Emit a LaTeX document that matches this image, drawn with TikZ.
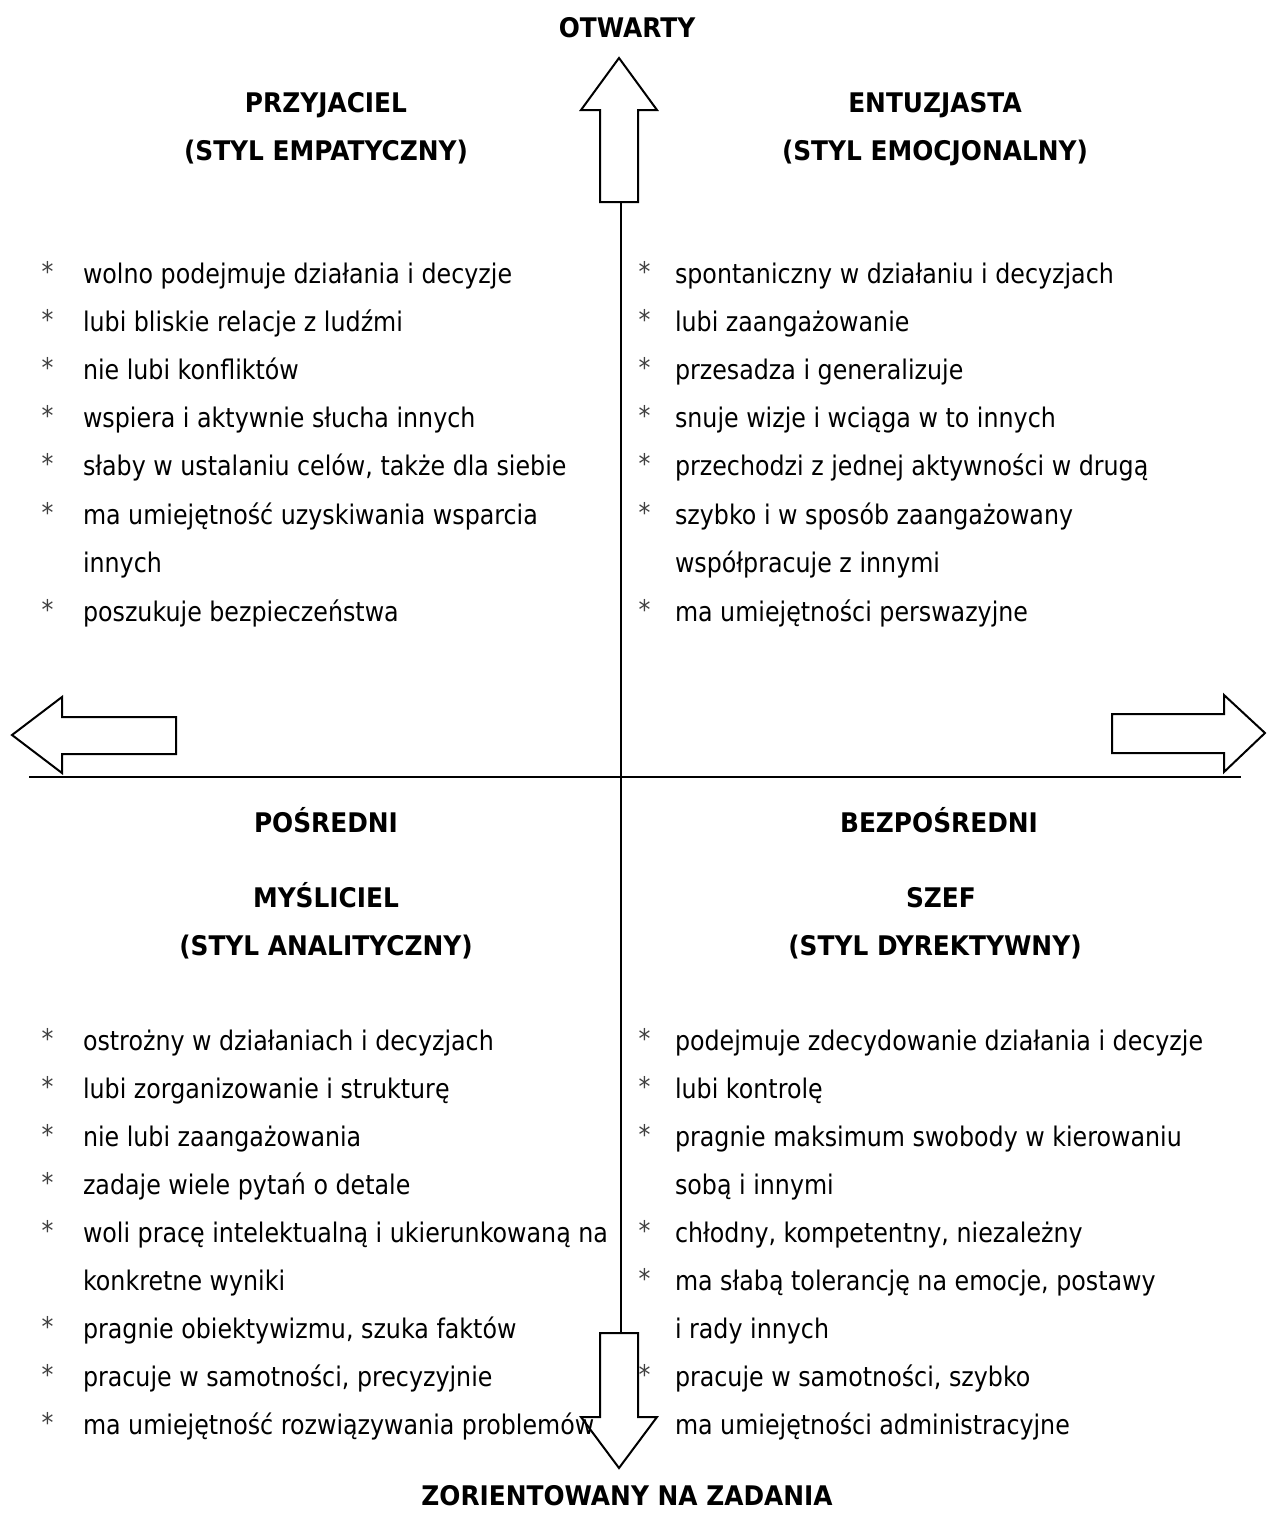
\documentclass[tikz,border=0pt]{standalone}
\usepackage{fontspec}
\setmainfont[FakeStretch=0.88, BoldFeatures={FakeStretch=0.92}]{DejaVu Sans}
\begin{document}
\begin{tikzpicture}[x=1pt,y=-1pt,
  every node/.style={inner sep=0pt, outer sep=0pt, font=\fontsize{27}{27}\selectfont},
  head/.style={anchor=base, font=\fontsize{27}{27}\selectfont\bfseries},
  item/.style={anchor=base west},
  bul/.style={anchor=center, text=black!75},
  bigarrow/.style={draw, line width=2pt, fill=white, line join=miter},
  axis/.style={draw, line width=2pt}]
\useasboundingbox (0,0) rectangle (1267,1513);

% axes
\coordinate (vtop) at (621,202);
\coordinate (vbot) at (621,1333);
\coordinate (hleft) at (29,777);
\coordinate (hright) at (1241,777);
\draw[axis] (vtop) -- (vbot);
\draw[axis] (hleft) -- (hright);

% block arrows
\draw[bigarrow] (619,58) -- (657,110) -- (638,110) -- (638,202) -- (600,202) -- (600,110) -- (581,110) -- cycle;
\draw[bigarrow] (600,1333) -- (638,1333) -- (638,1417) -- (657,1417) -- (619,1468) -- (581,1417) -- (600,1417) -- cycle;
\draw[bigarrow] (12,735) -- (62,697) -- (62,717) -- (176,717) -- (176,754) -- (62,754) -- (62,773) -- cycle;
\draw[bigarrow] (1112,714) -- (1224,714) -- (1224,695) -- (1265,733) -- (1224,772) -- (1224,753) -- (1112,753) -- cycle;

% headings
\node[head] (otw) at (627,37) {OTWARTY};
\node[head] (zad) at (627,1505) {ZORIENTOWANY NA ZADANIA};
\node[head] (prz) at (326,112) {PRZYJACIEL};
\node[head] (prz2) at (326,160) {(STYL EMPATYCZNY)};
\node[head] (ent) at (935,112) {ENTUZJASTA};
\node[head] (ent2) at (935,160) {(STYL EMOCJONALNY)};
\node[head] (pos) at (326,832) {POŚREDNI};
\node[head] (bez) at (939,832) {BEZPOŚREDNI};
\node[head] (mys) at (326,907) {MYŚLICIEL};
\node[head] (mys2) at (326,955) {(STYL ANALITYCZNY)};
\node[head] (sze) at (941,907) {SZEF};
\node[head] (sze2) at (935,955) {(STYL DYREKTYWNY)};

% upper left list
\node[bul] (ulb1) at (47.5,271) {*}; \node[item] (ul1) at (83,283) {wolno podejmuje działania i decyzje};
\node[bul] (ulb2) at (47.5,319) {*}; \node[item] (ul2) at (83,331) {lubi bliskie relacje z ludźmi};
\node[bul] (ulb3) at (47.5,367) {*}; \node[item] (ul3) at (83,379) {nie lubi konfliktów};
\node[bul] (ulb4) at (47.5,415) {*}; \node[item] (ul4) at (83,427) {wspiera i aktywnie słucha innych};
\node[bul] (ulb5) at (47.5,463) {*}; \node[item] (ul5) at (83,475) {słaby w ustalaniu celów, także dla siebie};
\node[bul] (ulb6) at (47.5,512) {*}; \node[item] (ul6) at (83,524) {ma umiejętność uzyskiwania wsparcia};
\node[item] (ul7) at (83,572) {innych};
\node[bul] (ulb8) at (47.5,609) {*}; \node[item] (ul8) at (83,621) {poszukuje bezpieczeństwa};

% upper right list
\node[bul] (urb1) at (644.5,271) {*}; \node[item] (ur1) at (675,283) {spontaniczny w działaniu i decyzjach};
\node[bul] (urb2) at (644.5,319) {*}; \node[item] (ur2) at (675,331) {lubi zaangażowanie};
\node[bul] (urb3) at (644.5,367) {*}; \node[item] (ur3) at (675,379) {przesadza i generalizuje};
\node[bul] (urb4) at (644.5,415) {*}; \node[item] (ur4) at (675,427) {snuje wizje i wciąga w to innych};
\node[bul] (urb5) at (644.5,463) {*}; \node[item] (ur5) at (675,475) {przechodzi z jednej aktywności w drugą};
\node[bul] (urb6) at (644.5,512) {*}; \node[item] (ur6) at (675,524) {szybko i w sposób zaangażowany};
\node[item] (ur7) at (675,572) {współpracuje z innymi};
\node[bul] (urb8) at (644.5,609) {*}; \node[item] (ur8) at (675,621) {ma umiejętności perswazyjne};

% lower left list
\node[bul] (llb1) at (47.5,1038) {*}; \node[item] (ll1) at (83,1050) {ostrożny w działaniach i decyzjach};
\node[bul] (llb2) at (47.5,1086) {*}; \node[item] (ll2) at (83,1098) {lubi zorganizowanie i strukturę};
\node[bul] (llb3) at (47.5,1134) {*}; \node[item] (ll3) at (83,1146) {nie lubi zaangażowania};
\node[bul] (llb4) at (47.5,1182) {*}; \node[item] (ll4) at (83,1194) {zadaje wiele pytań o detale};
\node[bul] (llb5) at (47.5,1230) {*}; \node[item] (ll5) at (83,1242) {woli pracę intelektualną i ukierunkowaną na};
\node[item] (ll6) at (83,1290) {konkretne wyniki};
\node[bul] (llb7) at (47.5,1326) {*}; \node[item] (ll7) at (83,1338) {pragnie obiektywizmu, szuka faktów};
\node[bul] (llb8) at (47.5,1374) {*}; \node[item] (ll8) at (83,1386) {pracuje w samotności, precyzyjnie};
\node[bul] (llb9) at (47.5,1422) {*}; \node[item] (ll9) at (83,1434) {ma umiejętność rozwiązywania problemów};

% lower right list
\node[bul] (lrb1) at (644.5,1038) {*}; \node[item] (lr1) at (675,1050) {podejmuje zdecydowanie działania i decyzje};
\node[bul] (lrb2) at (644.5,1086) {*}; \node[item] (lr2) at (675,1098) {lubi kontrolę};
\node[bul] (lrb3) at (644.5,1134) {*}; \node[item] (lr3) at (675,1146) {pragnie maksimum swobody w kierowaniu};
\node[item] (lr4) at (675,1194) {sobą i innymi};
\node[bul] (lrb5) at (644.5,1230) {*}; \node[item] (lr5) at (675,1242) {chłodny, kompetentny, niezależny};
\node[bul] (lrb6) at (644.5,1278) {*}; \node[item] (lr6) at (675,1290) {ma słabą tolerancję na emocje, postawy};
\node[item] (lr7) at (675,1338) {i rady innych};
\node[bul] (lrb8) at (644.5,1374) {*}; \node[item] (lr8) at (675,1386) {pracuje w samotności, szybko};
\node[item] (lr9) at (675,1434) {ma umiejętności administracyjne};
\end{tikzpicture}
\end{document}
